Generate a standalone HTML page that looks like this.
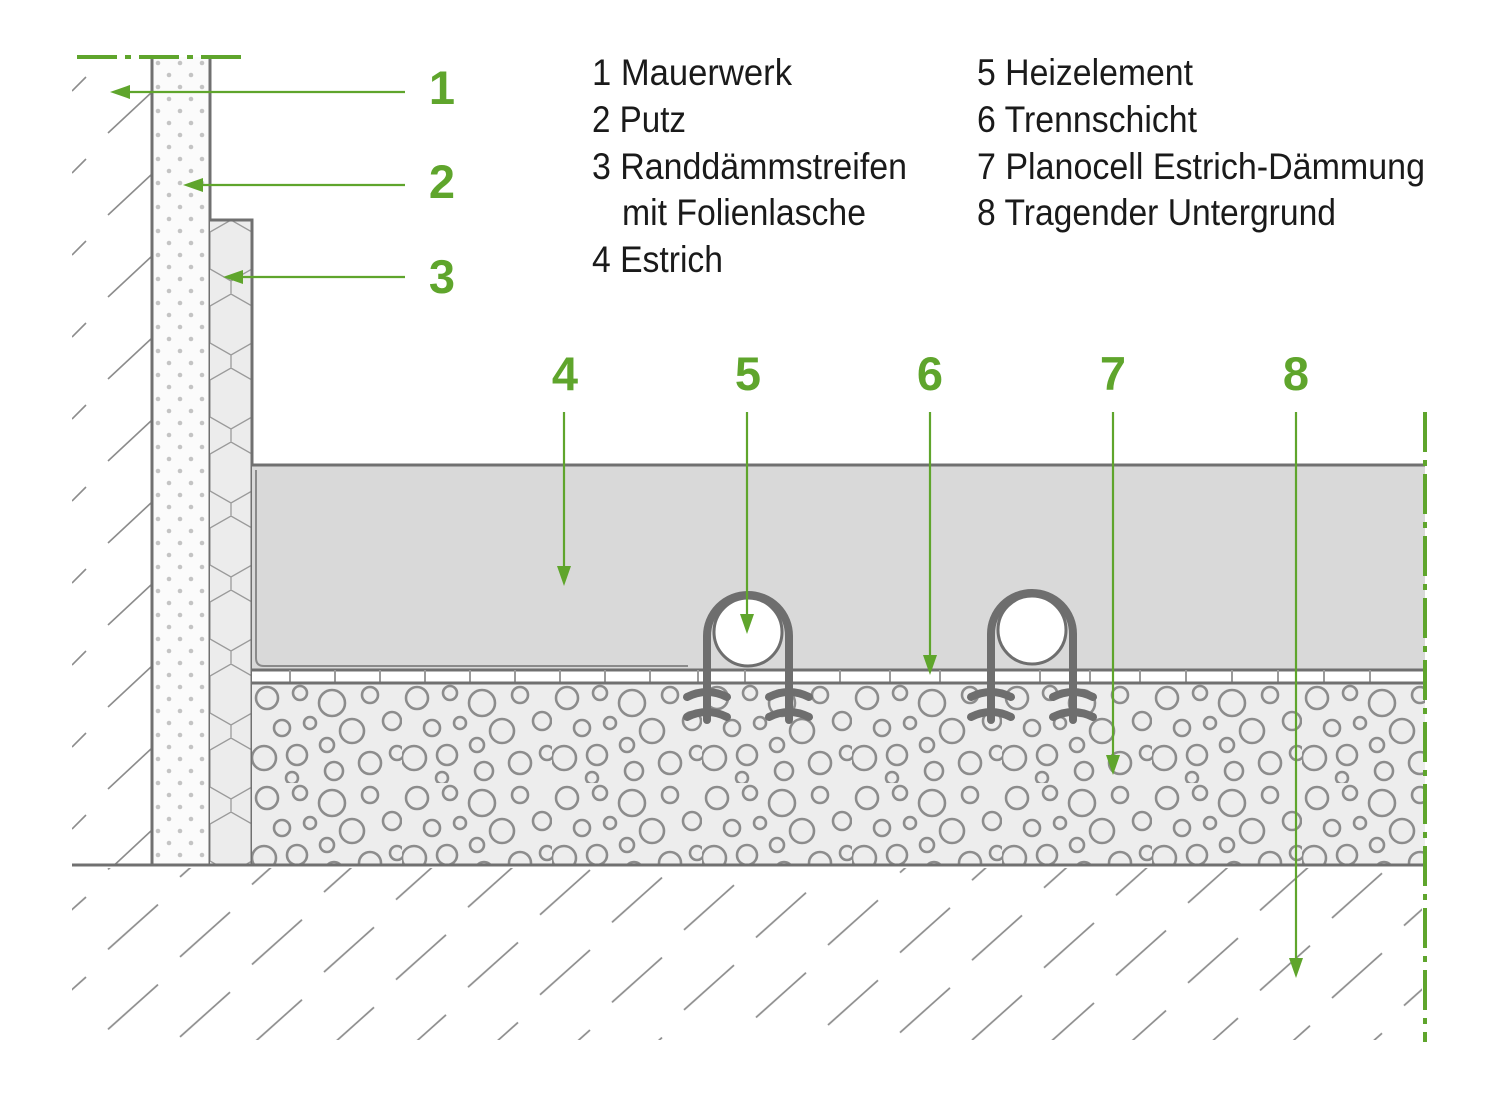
<!DOCTYPE html>
<html><head><meta charset="utf-8"><style>html,body{margin:0;padding:0;background:#fff}svg{display:block}</style></head>
<body>
<svg width="1500" height="1100" viewBox="0 0 1500 1100" xmlns="http://www.w3.org/2000/svg">
<defs>
<pattern id="dots" x="152" y="57" width="22" height="24" patternUnits="userSpaceOnUse">
<circle cx="6" cy="6" r="2.3" fill="#c4c4c4"/><circle cx="17" cy="18" r="2.3" fill="#c4c4c4"/>
</pattern>
<pattern id="hex" x="210" y="220" width="42" height="74" patternUnits="userSpaceOnUse">
<path d="M0,12 L21,0 L42,12 M21,0 V-10 M0,12 V49 L21,61 L42,49 V12 M21,61 V74" fill="none" stroke="#9a9a9a" stroke-width="1.3"/>
</pattern>
<pattern id="bub" x="252" y="683" width="150" height="100" patternUnits="userSpaceOnUse">
<g fill="none" stroke="#8c8c8c" stroke-width="2.6">
<circle cx="15" cy="15" r="11"/><circle cx="48" cy="10" r="7"/><circle cx="80" cy="20" r="13"/><circle cx="118" cy="12" r="8"/><circle cx="140" cy="38" r="9"/>
<circle cx="30" cy="45" r="8"/><circle cx="58" cy="40" r="6"/><circle cx="100" cy="48" r="12"/><circle cx="12" cy="75" r="12"/>
<circle cx="45" cy="72" r="10"/><circle cx="75" cy="62" r="7"/><circle cx="82" cy="88" r="9"/><circle cx="118" cy="80" r="11"/><circle cx="145" cy="70" r="7"/><circle cx="40" cy="95" r="6"/>
</g>
</pattern>
<pattern id="hw" x="72" y="75" width="80" height="82" patternUnits="userSpaceOnUse">
<line x1="0" y1="16" x2="14" y2="2" stroke="#8c8c8c" stroke-width="1.6"/>
<line x1="36" y1="58" x2="80" y2="17" stroke="#8c8c8c" stroke-width="1.6"/>
</pattern>
<pattern id="hg" x="72" y="868" width="72" height="80" patternTransform="skewY(6)" patternUnits="userSpaceOnUse">
<line x1="36" y1="70" x2="86" y2="20" stroke="#8c8c8c" stroke-width="1.6"/>
<line x1="-36" y1="70" x2="14" y2="20" stroke="#8c8c8c" stroke-width="1.6"/>
</pattern>
</defs>

<!-- wall hatching -->
<rect x="72" y="70" width="80" height="795" fill="url(#hw)"/>
<!-- ground hatching -->
<rect x="72" y="868" width="1350" height="172" fill="url(#hg)"/>
<rect x="1422" y="860" width="60" height="200" fill="#fff"/>

<!-- putz -->
<rect x="152" y="57" width="58" height="808" fill="#fbfbfb"/>
<rect x="152" y="57" width="58" height="808" fill="url(#dots)"/>
<line x1="152" y1="57" x2="152" y2="865" stroke="#707070" stroke-width="3"/>
<line x1="210" y1="57" x2="210" y2="865" stroke="#707070" stroke-width="3"/>
<!-- randdaemm -->
<rect x="210" y="220" width="42" height="645" fill="#ececec"/>
<rect x="210" y="220" width="42" height="645" fill="url(#hex)"/>
<path d="M210,220 H252 V865" fill="none" stroke="#707070" stroke-width="3"/>

<!-- estrich -->
<rect x="252" y="465" width="1173" height="205" fill="#d9d9d9"/>
<line x1="252" y1="465" x2="1425" y2="465" stroke="#707070" stroke-width="3"/>
<path d="M256,470 V658 Q256,666 264,666 H688" fill="none" stroke="#8a8a8a" stroke-width="2"/>
<!-- trennschicht -->
<rect x="252" y="670" width="1173" height="13" fill="#fff"/>
<line x1="252" y1="670" x2="1425" y2="670" stroke="#707070" stroke-width="3"/>
<g stroke="#9a9a9a" stroke-width="2">
<path d="M290,670V683M335,670V683M380,670V683M425,670V683M470,670V683M515,670V683M560,670V683M605,670V683M650,670V683M698,670V683M745,670V683M790,670V683M840,670V683M890,670V683M940,670V683M990,670V683M1040,670V683M1090,670V683M1140,670V683M1186,670V683M1232,670V683M1278,670V683M1324,670V683M1370,670V683"/>
</g>
<!-- insulation -->
<rect x="252" y="683" width="1173" height="182" fill="#ededed"/>
<rect x="252" y="683" width="1173" height="182" fill="url(#bub)"/>
<line x1="252" y1="683" x2="1425" y2="683" stroke="#707070" stroke-width="3"/>
<line x1="72" y1="865" x2="1425" y2="865" stroke="#707070" stroke-width="3"/>

<!-- pipes & clips -->
<g fill="none" stroke="#6e6e6e" stroke-width="8" stroke-linecap="round">
<path d="M707,720 V636 A41,41 0 0 1 789,636 V720"/>
<path d="M687,697 Q707,687 727,697 M687,717 Q707,707 727,717"/>
<path d="M769,697 Q789,687 809,697 M769,717 Q789,707 809,717"/>
<path d="M991,720 V634 A41,41 0 0 1 1073,634 V720"/>
<path d="M971,697 Q991,687 1011,697 M971,717 Q991,707 1011,717"/>
<path d="M1053,697 Q1073,687 1093,697 M1053,717 Q1073,707 1093,717"/>
</g>
<circle cx="748" cy="632" r="34" fill="#fff" stroke="#6e6e6e" stroke-width="3"/>
<circle cx="1032" cy="630" r="34" fill="#fff" stroke="#6e6e6e" stroke-width="3"/>

<!-- green axes -->
<line x1="77" y1="57" x2="245" y2="57" stroke="#5fa52c" stroke-width="4" stroke-dasharray="40,8,6,8"/>
<line x1="1425" y1="412" x2="1425" y2="1042" stroke="#5fa52c" stroke-width="4" stroke-dasharray="40,8,6,8"/>

<!-- leaders -->
<g stroke="#5fa52c" stroke-width="2.2" fill="#5fa52c">
<line x1="405" y1="92" x2="120" y2="92"/><path d="M110,92 L130,85 L130,99Z" stroke="none"/>
<line x1="405" y1="185" x2="192" y2="185"/><path d="M183,185 L203,178 L203,192Z" stroke="none"/>
<line x1="405" y1="277" x2="232" y2="277"/><path d="M223,277 L243,270 L243,284Z" stroke="none"/>
<line x1="564" y1="412" x2="564" y2="575"/><path d="M564,586 L557,566 L571,566Z" stroke="none"/>
<line x1="747" y1="412" x2="747" y2="625"/><path d="M747,634 L740,614 L754,614Z" stroke="none"/>
<line x1="930" y1="412" x2="930" y2="665"/><path d="M930,675 L923,655 L937,655Z" stroke="none"/>
<line x1="1113" y1="412" x2="1113" y2="765"/><path d="M1113,775 L1106,755 L1120,755Z" stroke="none"/>
<line x1="1296" y1="412" x2="1296" y2="968"/><path d="M1296,978 L1289,958 L1303,958Z" stroke="none"/>
</g>

<!-- green numbers -->
<g font-family="Liberation Sans, sans-serif" font-weight="bold" font-size="47" fill="#5fa52c" text-anchor="middle">
<text x="442" y="104">1</text><text x="442" y="198">2</text><text x="442" y="293">3</text>
<text x="565" y="390">4</text><text x="748" y="390">5</text><text x="930" y="390">6</text><text x="1113" y="390">7</text><text x="1296" y="390">8</text>
</g>

<!-- legend -->
<g font-family="Liberation Sans, sans-serif" font-size="37" fill="#1a1a1a" lengthAdjust="spacingAndGlyphs">
<text x="592" y="85" textLength="200" lengthAdjust="spacingAndGlyphs">1 Mauerwerk</text>
<text x="592" y="132" textLength="94" lengthAdjust="spacingAndGlyphs">2 Putz</text>
<text x="592" y="179" textLength="315" lengthAdjust="spacingAndGlyphs">3 Randdämmstreifen</text>
<text x="622" y="225" textLength="244" lengthAdjust="spacingAndGlyphs">mit Folienlasche</text>
<text x="592" y="272" textLength="131" lengthAdjust="spacingAndGlyphs">4 Estrich</text>
<text x="977" y="85" textLength="216" lengthAdjust="spacingAndGlyphs">5 Heizelement</text>
<text x="977" y="132" textLength="220" lengthAdjust="spacingAndGlyphs">6 Trennschicht</text>
<text x="977" y="179" textLength="448" lengthAdjust="spacingAndGlyphs">7 Planocell Estrich-Dämmung</text>
<text x="977" y="225" textLength="359" lengthAdjust="spacingAndGlyphs">8 Tragender Untergrund</text>
</g>
</svg>
</body></html>
